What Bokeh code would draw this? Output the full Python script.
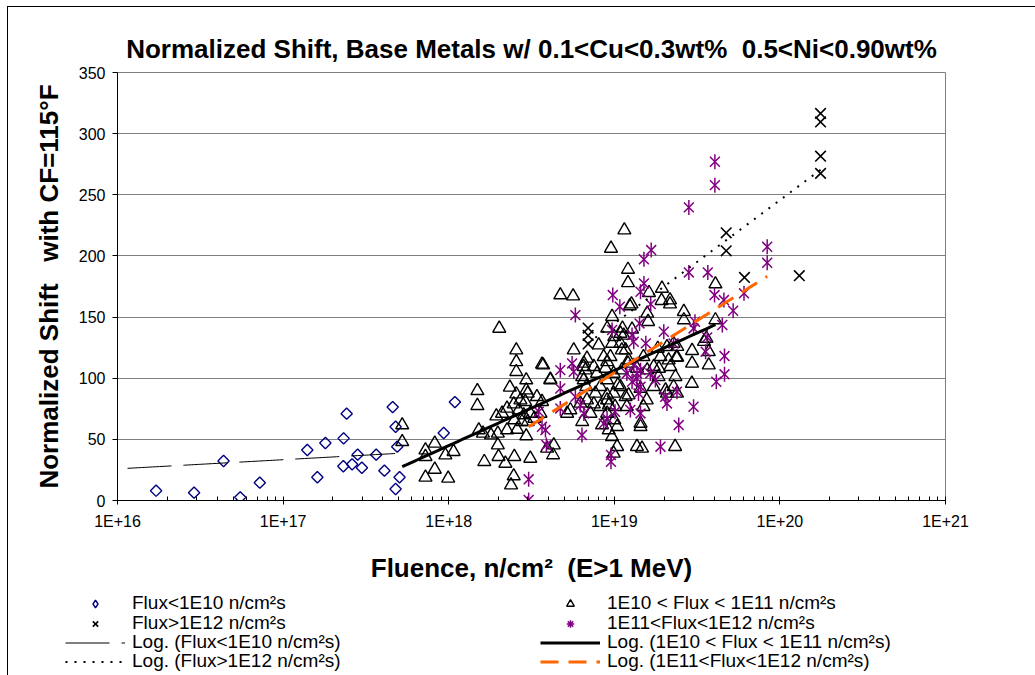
import numpy as np
from bokeh.plotting import figure
from bokeh.layouts import column
from bokeh.models import Range1d, FixedTicker, CustomJSTickFormatter, Legend, LegendItem, ColumnDataSource
from bokeh.embed import file_html
from bokeh.resources import INLINE

FONT = "Liberation Sans"

# ---------------- data ----------------
dia_fluence = [1.71e16, 2.90e16, 4.37e16, 5.51e16, 7.23e16, 1.40e17, 1.61e17, 1.80e17, 2.32e17, 2.42e17,
               2.31e17, 2.61e17, 2.82e17, 2.99e17, 3.65e17, 4.09e17, 4.59e17, 4.78e17, 4.89e17, 5.05e17,
               4.78e17, 1.09e18, 9.33e17]
dia_shift = [8.0, 6.4, 32.3, 2.6, 14.6, 41.3, 19.0, 47.0, 50.8, 71.0,
             28.0, 29.6, 37.5, 26.8, 37.5, 24.4, 76.4, 60.3, 44.0, 19.0,
             9.4, 80.5, 55.2]

tri_fluence = [5.24e17, 5.24e17, 7.24e17, 7.24e17, 7.24e17, 8.24e17, 8.24e17, 9.55e17, 1.07e18, 9.93e17,
               1.49e18, 1.49e18, 1.52e18, 2.02e18, 1.61e18, 1.80e18, 1.98e18, 1.98e18, 2.00e18, 1.64e18,
               1.94e18, 2.20e18, 2.49e18, 2.47e18, 2.38e18, 2.56e18, 2.56e18, 2.56e18, 2.94e18, 2.94e18,
               2.34e18, 2.56e18, 2.71e18, 3.00e18, 2.90e18, 3.41e18, 3.66e18, 3.66e18, 4.11e18, 2.25e18,
               2.47e18, 2.65e18, 2.84e18, 3.11e18, 2.10e18, 2.49e18, 2.77e18, 3.00e18, 3.29e18, 3.58e18,
               2.25e18, 2.59e18, 2.94e18, 3.11e18, 3.93e18, 4.31e18, 4.27e18, 4.72e18, 5.64e18, 5.69e18,
               5.19e18, 5.43e18, 6.24e18, 6.84e18, 7.52e18, 6.78e18, 6.53e18, 7.52e18,
               1.15e19, 9.55e18, 1.21e19, 1.21e19, 1.94e19, 1.62e19, 2.17e19, 2.17e19, 1.93e19, 1.27e19,
               9.70e18, 9.06e18, 1.12e19, 1.28e19, 1.58e19, 1.60e19, 2.63e19, 2.63e19, 4.08e19, 4.08e19,
               3.48e19, 2.95e19, 2.95e19, 2.40e19, 2.40e19,
               1.14e19, 8.05e18, 1.00e19, 9.70e18, 1.09e19, 1.11e19, 9.48e18, 9.06e18, 8.85e18, 6.55e18,
               6.70e18, 6.40e18, 3.72e18, 4.11e18, 1.21e19, 1.37e19, 1.58e19, 1.86e19, 2.18e19, 2.37e19,
               1.83e19, 3.60e19, 2.34e19, 2.04e19, 2.39e19, 1.22e19, 1.44e19, 1.05e19, 9.06e18, 1.19e19,
               9.27e18, 9.06e18, 8.43e18, 7.69e18, 7.18e18, 6.40e18, 1.44e19, 1.04e19, 1.24e19, 1.90e19,
               3.72e19, 3.72e19, 2.08e19, 2.94e19, 1.44e19, 1.37e19, 1.47e19, 2.33e19, 1.73e19, 1.00e19,
               9.68e18, 1.04e19, 9.91e18,
               6.53e18, 6.84e18, 7.87e18, 8.63e18, 1.09e19, 1.17e19, 1.22e19, 1.11e19, 9.91e18, 9.04e18,
               8.24e18, 9.91e18, 1.09e19, 1.17e19, 1.01e19, 9.04e18, 8.24e18, 9.25e18, 1.50e19, 1.57e19,
               1.73e19, 1.85e19, 1.50e19, 2.08e19, 2.28e19, 2.13e19, 2.28e19]
tri_shift = [61.7, 48.0, 41.2, 35.8, 18.9, 46.7, 25.4, 37.1, 39.9, 18.1,
             89.7, 77.5, 57.6, 140.7, 54.9, 53.5, 54.9, 45.3, 35.8, 31.7,
             69.0, 30.3, 35.8, 20.0, 12.6, 123.0, 113.4, 105.3, 98.5, 90.3,
             92.5, 87.0, 82.1, 87.6, 80.8, 84.8, 80.8, 111.3, 98.5, 75.3,
             78.8, 73.9, 69.9, 71.2, 71.2, 65.8, 64.4, 64.4, 67.1, 71.2,
             57.6, 58.1, 52.7, 34.4, 42.6, 45.3, 37.2, 168.0, 167.1, 123.0,
             71.2, 74.0, 79.4, 82.1, 78.8, 93.0, 109.4, 109.4,
             221.1, 206.1, 188.9, 178.0, 173.4, 169.9, 163.9, 160.6, 163.4, 160.6,
             150.3, 140.8, 140.8, 140.0, 153.0, 146.2, 154.4, 147.6, 177.0, 147.6,
             129.9, 122.5, 112.1, 117.1, 125.8,
             135.0, 127.1, 133.9, 128.4, 128.4, 123.0, 117.5, 113.4, 108.0, 112.1,
             106.6, 101.2, 110.7, 99.0, 112.1, 108.0, 106.6, 108.0, 109.4, 117.0,
             124.3, 132.5, 101.2, 90.3, 87.6, 86.2, 91.6, 94.4, 86.2, 76.7,
             78.0, 71.2, 61.7, 87.6, 71.2, 64.4, 63.0, 60.3, 159.0, 117.5,
             121.6, 110.7, 87.6, 95.7, 60.3, 44.0, 42.6, 44.0, 109.4, 65.8,
             52.1, 44.0, 38.5,
             98.5, 116.2, 103.9, 117.5, 136.6, 123.0, 114.8, 106.6, 103.9, 98.5,
             93.0, 87.6, 93.0, 84.8, 76.7, 82.1, 76.7, 57.6, 76.7, 82.1,
             93.0, 101.2, 117.5, 125.7, 128.4, 114.8, 93.0]

x_fluence = [6.95e18, 6.95e18, 6.95e18, 4.74e19, 4.74e19, 6.11e19, 1.31e20, 1.76e20, 1.76e20, 1.76e20, 1.76e20]
x_shift = [141.0, 135.0, 128.0, 218.9, 204.2, 182.4, 183.8, 316.5, 309.6, 281.6, 267.5]

ast_fluence = [4.05e19, 4.05e19, 2.82e19, 8.38e19, 8.38e19, 1.67e19, 1.51e19, 2.82e19, 3.67e19, 9.79e18,
               1.44e19, 1.51e19, 1.08e19, 1.66e19, 4.03e19, 4.59e19, 6.07e19, 5.22e19, 3.07e19, 4.49e19,
               3.64e19, 3.56e19, 4.63e19, 4.63e19, 1.99e19, 1.55e19, 1.28e19, 9.70e18, 5.82e18, 1.42e19,
               3.01e19,
               4.13e19, 3.01e19, 2.45e19, 1.90e19, 9.55e18, 9.55e18,
               5.56e18, 4.72e18, 4.72e18, 4.72e18, 5.82e18, 6.24e18, 6.38e18, 9.04e18, 1.01e19, 1.25e19,
               1.44e19, 1.40e19, 1.37e19, 1.44e19, 1.19e19, 1.28e19, 1.77e19, 2.03e19, 2.39e19,
               3.04e18, 3.04e18, 3.84e18, 3.89e18, 3.50e18,
               1.31e19, 5.69e18, 1.31e19, 1.65e19, 1.37e19, 1.44e19, 2.08e19, 6.55e18, 8.63e18, 3.66e18,
               2.28e19]
ast_shift = [277.0, 257.9, 239.7, 207.5, 194.4, 204.8, 197.2, 186.5, 186.5, 168.0,
             170.7, 177.5, 158.5, 160.6, 168.0, 163.9, 169.4, 155.2, 146.2, 143.5,
             133.4, 121.7, 118.1, 103.2, 138.0, 128.5, 135.3, 139.4, 151.6, 144.8,
             140.7,
             97.1, 76.7, 61.7, 44.0, 31.7, 37.2,
             112.1, 106.6, 91.6, 75.3, 84.8, 78.0, 53.5, 67.1, 72.6, 74.0,
             71.2, 87.6, 103.9, 106.6, 103.9, 97.1, 98.5, 84.8, 88.9,
             17.3, 0.4, 57.6, 45.3, 72.6,
             129.8, 105.3, 110.7, 103.9, 99.8, 93.0, 79.4, 71.2, 63.0, 60.3,
             128.4]

# logarithmic trend lines, y = c*ln(F) + d, drawn over [F_min, F_max]
trend_c = [3.257, 26.67, 43.86, 37.09]
trend_d = [-94.14, -1060.5, -1774.2, -1518.2]
trend_fmin = [1.15e16, 5.24e17, 6.95e18, 3.04e18]
trend_fmax = [5.62e17, 4.08e19, 1.76e20, 8.38e19]

labels = ["Flux<1E10 n/cm²s", "1E10 < Flux < 1E11 n/cm²s", "Flux>1E12 n/cm²s", "1E11<Flux<1E12 n/cm²s",
          "Log. (Flux<1E10 n/cm²s)", "Log. (1E10 < Flux < 1E11 n/cm²s)",
          "Log. (Flux>1E12 n/cm²s)", "Log. (1E11<Flux<1E12 n/cm²s)"]

x_ticks = [1e16, 1e17, 1e18, 1e19, 1e20, 1e21]
x_tick_labels = ["1E+16", "1E+17", "1E+18", "1E+19", "1E+20", "1E+21"]
y_ticks = [0, 50, 100, 150, 200, 250, 300, 350]

# ---------------- sources & styles ----------------
src_dia = ColumnDataSource(dict(x=dia_fluence, y=dia_shift))
src_tri = ColumnDataSource(dict(x=tri_fluence, y=tri_shift))
src_x = ColumnDataSource(dict(x=x_fluence, y=x_shift))
src_ast = ColumnDataSource(dict(x=ast_fluence, y=ast_shift))
src_tr = []
for c, d, f0, f1 in zip(trend_c, trend_d, trend_fmin, trend_fmax):
    f = np.logspace(np.log10(f0), np.log10(f1), 80)
    src_tr.append(ColumnDataSource(dict(x=f, y=c * np.log(f) + d)))

dia_style = dict(fill_alpha=0, line_color="#000080", line_width=1.4)
tri_style = dict(marker="triangle", fill_alpha=0, line_color="black", line_width=1.4)
x_style = dict(marker="x", line_color="black", line_width=1.6)
ast_style = dict(line_color="#800080", line_width=1.5)
trend_styles = [dict(line_color="black", line_width=1, line_dash="44 12"),
                dict(line_color="black", line_width=3),
                dict(line_color="black", line_width=2, line_dash="2 7"),
                dict(line_color="#FF6600", line_width=3, line_dash="18 10")]

# ---------------- main figure ----------------
p = figure(width=1027, height=578, x_axis_type="log",
           x_range=Range1d(1e16, 1e21), y_range=Range1d(0, 350),
           output_backend="svg", toolbar_location=None,
           min_border_left=109, min_border_right=90, min_border_top=65, min_border_bottom=85,
           background_fill_color="white", border_fill_color="white")

p.title.text = "Normalized Shift, Base Metals w/ 0.1<Cu<0.3wt%\u00a0\u00a00.5<Ni<0.90wt%"
p.title.align = "center"
p.title.text_font = FONT
p.title.text_font_size = "26px"
p.title.text_font_style = "bold"
p.title.text_color = "black"
p.title.standoff = 17

p.outline_line_color = "#808080"
p.xgrid.visible = False
p.ygrid.grid_line_color = "#808080"
p.ygrid.grid_line_width = 1

minor = [m * 10.0 ** e for e in range(16, 21) for m in range(2, 10)]
p.xaxis.ticker = FixedTicker(ticks=x_ticks, minor_ticks=minor)
p.xaxis.formatter = CustomJSTickFormatter(args=dict(xt=x_ticks, xl=x_tick_labels), code="""
    for (let i = 0; i < xt.length; i++) {
        if (Math.abs(Math.log10(xt[i]) - Math.log10(tick)) < 1e-6) return xl[i];
    }
    return "";
""")
p.yaxis.ticker = FixedTicker(ticks=y_ticks, minor_ticks=[])

for ax in (p.xaxis[0], p.yaxis[0]):
    ax.axis_line_color = "black"
    ax.major_tick_line_color = "black"
    ax.minor_tick_line_color = "black"
    ax.major_label_text_font = FONT
    ax.major_label_text_font_size = "16px"
    ax.major_label_text_color = "black"
    ax.axis_label_text_font = FONT
    ax.axis_label_text_font_size = "26px"
    ax.axis_label_text_font_style = "bold"
    ax.axis_label_text_color = "black"

p.xaxis.major_tick_in = 4
p.xaxis.major_tick_out = 4
p.xaxis.minor_tick_in = 4
p.xaxis.minor_tick_out = 0
p.xaxis.major_label_standoff = 8
p.xaxis.axis_label = "Fluence, n/cm²\u00a0\u00a0(E>1 MeV)"
p.xaxis.axis_label_standoff = 20

p.yaxis.major_tick_in = 0
p.yaxis.major_tick_out = 5
p.yaxis.minor_tick_in = 0
p.yaxis.minor_tick_out = 0
p.yaxis.major_label_standoff = 7
p.yaxis.axis_label = "Normalized Shift\u00a0\u00a0\u00a0with CF=115°F"
p.yaxis.axis_label_standoff = 12

p.scatter("x", "y", source=src_dia, marker="square", angle=np.pi / 4, size=8, **dia_style)
p.scatter("x", "y", source=src_tri, size=13, **tri_style)
p.scatter("x", "y", source=src_x, size=15, **x_style)
p.scatter("x", "y", source=src_ast, marker="x", size=14, **ast_style)
p.scatter("x", "y", source=src_ast, marker="dash", angle=np.pi / 2, size=15, **ast_style)
for s, st in zip(src_tr, trend_styles):
    p.line("x", "y", source=s, **st)

# ---------------- legend strip ----------------
q = figure(width=1027, height=90, x_range=Range1d(0, 1027), y_range=Range1d(0, 90),
           output_backend="svg", toolbar_location=None,
           x_axis_location=None, y_axis_location=None,
           min_border=0, min_border_left=0, min_border_right=0, min_border_top=0, min_border_bottom=0,
           background_fill_color="white", border_fill_color="white", outline_line_color=None)
q.grid.visible = False
for fig in (p, q):
    try:
        fig.frame_align = False
    except Exception:
        pass

# hidden renderers sharing the series' sources, used only for the legend samples
g_dia = q.scatter("x", "y", source=src_dia, marker="diamond", size=10, visible=False, **dia_style)
g_tri = q.scatter("x", "y", source=src_tri, size=8, visible=False, **tri_style)
g_x = q.scatter("x", "y", source=src_x, size=8, visible=False, **x_style)
g_ast = q.scatter("x", "y", source=src_ast, marker="asterisk", size=9, visible=False, **ast_style)
g_tr = [q.line("x", "y", source=s, visible=False, **st) for s, st in zip(src_tr, trend_styles)]

entries = [
    (labels[0], [g_dia], 57, 61), (labels[2], [g_x], 57, 41),
    (labels[4], [g_tr[0]], 57, 22), (labels[6], [g_tr[2]], 57, 3),
    (labels[1], [g_tri], 532, 61), (labels[3], [g_ast], 532, 41),
    (labels[5], [g_tr[1]], 532, 22), (labels[7], [g_tr[3]], 532, 3),
]
for lab, rends, lx, ly in entries:
    leg = Legend(items=[LegendItem(label=lab, renderers=rends)], location=(lx, ly),
                 glyph_width=60, glyph_height=19, label_height=19, label_standoff=7,
                 spacing=0, padding=0, margin=0, border_line_alpha=0, background_fill_alpha=0,
                 label_text_font=FONT, label_text_font_size="19px", label_text_color="black")
    q.add_layout(leg)

layout = column(p, q, spacing=0,
                styles={"margin-left": "7px", "margin-top": "6px",
                        "border-left": "1px solid black", "border-top": "1px solid black"})

open("out.html", "w").write(file_html(layout, INLINE))
